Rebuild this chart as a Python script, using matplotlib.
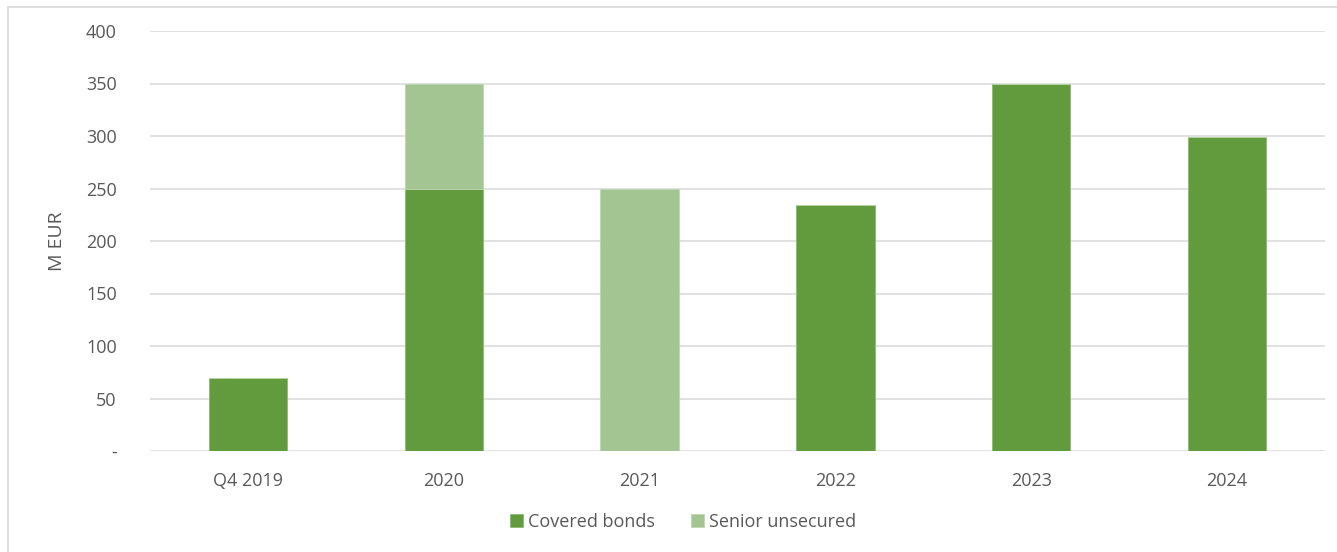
import matplotlib.pyplot as plt
from matplotlib.patches import Rectangle

# Issuance by year, M EUR
years = ["Q4 2019", "2020", "2021", "2022", "2023", "2024"]
covered = [70, 250, 0, 234, 350, 299]
senior = [0, 100, 250, 0, 0, 0]
yticks = [0, 50, 100, 150, 200, 250, 300, 350, 400]
ytick_labels = ["-", "50", "100", "150", "200", "250", "300", "350", "400"]

dark_green = "#629A3E"
light_green = "#A2C592"
text_grey = "#595959"

plt.rcParams['font.family'] = ['Open Sans', 'DejaVu Sans']

fig = plt.figure(figsize=(13.37, 5.52), dpi=100)
ax = fig.add_axes([150 / 1337, 1 - 451 / 552, 1175 / 1337, 420 / 552])

x = range(len(years))
ax.bar(x, covered, width=0.4, color=dark_green, edgecolor="#8DBB70", linewidth=0.6,
       label="Covered bonds", zorder=3)
ax.bar(x, senior, width=0.4, bottom=covered, color=light_green, edgecolor="#BCD8AF",
       linewidth=0.6, label="Senior unsecured", zorder=3)

ax.set_xlim(-0.5, len(years) - 0.5)
ax.set_ylim(0, 400)
ax.set_yticks(yticks)
ax.set_yticklabels(ytick_labels)
ax.set_xticks(list(x))
ax.set_xticklabels(years)
ax.tick_params(axis="both", length=0, labelsize=13, colors=text_grey)
ax.tick_params(axis="y", pad=24)
ax.tick_params(axis="x", pad=15)
ax.yaxis.grid(True, color="#D9D9D9", linewidth=1.1, zorder=0)
for s in ax.spines.values():
    s.set_visible(False)

ax.set_ylabel("M EUR", fontsize=14, color=text_grey, labelpad=14)

h, l = ax.get_legend_handles_labels()
fig.legend(h, l, loc="center", bbox_to_anchor=(683 / 1337, 1 - 522 / 552), ncol=2,
           frameon=False, fontsize=13, labelcolor=text_grey, handlelength=0.7,
           handleheight=0.7, handletextpad=0.3, columnspacing=2.0)

# thin outer frame
fig.patches.append(Rectangle((8 / 1337, -0.1), 1.2, 1 - 7 / 552 + 0.1,
                             transform=fig.transFigure, fill=False,
                             edgecolor="#D9D9D9", linewidth=1.2))

fig.savefig("out.png", dpi=100)
